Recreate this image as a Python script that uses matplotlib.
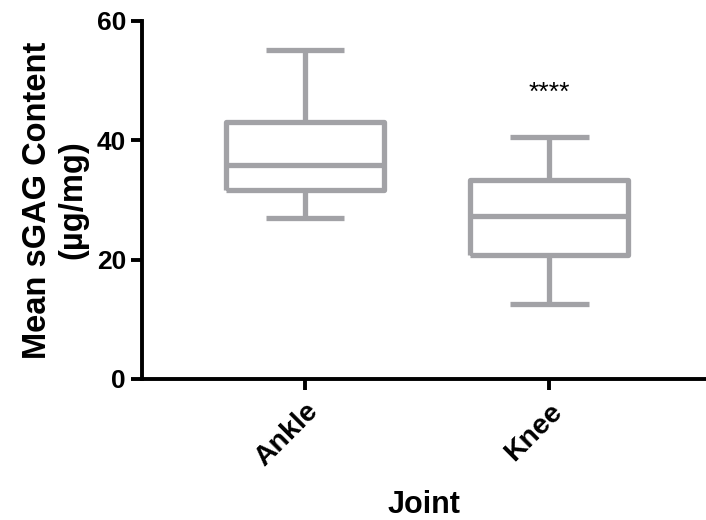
import numpy as np
import matplotlib.pyplot as plt

plt.rcParams['font.family'] = ['Liberation Sans', 'DejaVu Sans']
plt.rcParams['font.weight'] = 'bold'

# box plot summary
joints = ['Ankle', 'Knee']
whisker_low = [27.0, 12.6]
q1 = [31.6, 20.7]
median = [35.8, 27.4]
q3 = [43.0, 33.4]
whisker_high = [55.1, 40.6]
signif = ['', '****']

grey = '#A2A2A6'

fig = plt.figure(figsize=(7.06, 5.2), dpi=100)
ax = fig.add_axes([142/706, 1 - 379/520, 564/706, (379 - 21)/520])

stats = []
for i in range(len(joints)):
    stats.append(dict(label=joints[i], whislo=whisker_low[i], q1=q1[i], med=median[i],
                      q3=q3[i], whishi=whisker_high[i], fliers=[]))

line = dict(color=grey, linewidth=3.8, solid_capstyle='butt')
ax.bxp(stats, positions=range(len(joints)), widths=0.645, showfliers=False,
       boxprops=line, medianprops=line, whiskerprops=line, capprops=line,
       capwidths=0.32)

for i, s in enumerate(signif):
    if s:
        ax.text(i, whisker_high[i] + 7.3, s, ha='center', va='center', fontsize=19,
                fontweight='normal')

ax.set_xlim(-0.665, 1.64)
ax.set_ylim(0, 60)
ax.set_yticks([0, 20, 40, 60])
ax.set_xticks(range(len(joints)))
ax.set_xticklabels(joints, rotation=45, ha='right', rotation_mode='anchor')

for side in ['top', 'right']:
    ax.spines[side].set_visible(False)
for side in ['left', 'bottom']:
    ax.spines[side].set_linewidth(2.8)
ax.tick_params(width=2.8, length=8, labelsize=19)
ax.tick_params(axis='x', pad=6, labelsize=20.5)

ax.set_ylabel('Mean sGAG Content\n(µg/mg)', fontsize=23.5, fontweight='bold', labelpad=6)
ax.set_xlabel('Joint', fontsize=22, fontweight='bold', labelpad=13)

fig.savefig('out.png', dpi=100)
